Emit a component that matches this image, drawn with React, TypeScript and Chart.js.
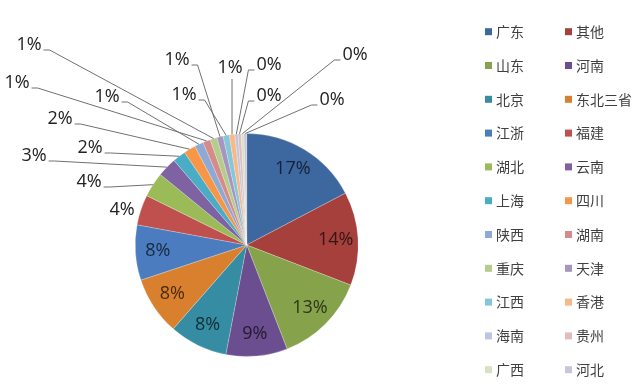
import React, { useEffect, useRef } from 'react';
import { Chart, registerables } from 'chart.js';

Chart.register(...registerables);

// ---- data ----
const categories = ['广东', '其他', '山东', '河南', '北京', '东北三省', '江浙', '福建', '湖北', '云南', '上海', '四川', '陕西', '湖南', '重庆', '天津', '江西', '香港', '海南', '贵州', '广西', '河北'];
const shares = [17.3, 13.55, 13.25, 8.9, 8.45, 8.45, 8.0, 4.4, 3.6, 2.8, 1.9, 1.7, 1.3, 1.1, 1.0, 0.9, 0.9, 0.8, 0.45, 0.45, 0.4, 0.4];

// ---- styles ----
const sliceColors = ['#3C679F', '#A5403D', '#86A34B', '#6A4E8F', '#368CA3', '#D9802F', '#4A7CBF', '#C0504D', '#9BBB59', '#7F62A1', '#4BACC6', '#F79646', '#8DA9D4', '#D48B89', '#B5CC8A', '#A496BE', '#86C6D9', '#F9B886', '#B9C7E2', '#E1BDBC', '#D6E2C3', '#CBC5D8'];

// label placement: null => inside the slice; [dx, dy] => outside label centre offset from the pie centre
const outsideLabelOffsets: (null | [number, number])[] = [
  null, null, null, null, null, null, null,
  [-124.7, -35], [-157.7, -63], [-212.7, -89], [-156.7, -97], [-186.7, -126],
  [-139.7, -148], [-229.7, -162], [-217.7, -200], [-69.7, -185], [-62.7, -150],
  [-16.7, -177], [22.3, -180], [22.3, -149], [108.3, -190], [85.3, -145],
];

function darken(hex: string, f: number) {
  const n = parseInt(hex.slice(1), 16);
  const r = Math.round(((n >> 16) & 255) * f);
  const g = Math.round(((n >> 8) & 255) * f);
  const b = Math.round((n & 255) * f);
  return `rgb(${r},${g},${b})`;
}

const labelFont = '18px "Open Sans", "Liberation Sans", sans-serif';
const legendFont = '14px "Noto Sans CJK SC", sans-serif';

const pieLabelsPlugin = {
  id: 'pieLabels',
  afterDatasetsDraw(chart: any) {
    const ctx = chart.ctx as CanvasRenderingContext2D;
    const meta = chart.getDatasetMeta(0);
    const data = chart.data.datasets[0].data as number[];
    const total = data.reduce((a, b) => a + b, 0);
    ctx.save();
    ctx.font = labelFont;
    ctx.textBaseline = 'middle';
    ctx.textAlign = 'center';
    meta.data.forEach((arc: any, i: number) => {
      const { x, y, startAngle, endAngle, outerRadius } = arc.getProps(['x', 'y', 'startAngle', 'endAngle', 'outerRadius'], true);
      const mid = (startAngle + endAngle) / 2;
      const text = Math.round((data[i] / total) * 100) + '%';
      const off = outsideLabelOffsets[i];
      if (!off) {
        const r = outerRadius * 0.8;
        ctx.fillStyle = darken(sliceColors[i], 0.33);
        ctx.fillText(text, x + Math.cos(mid) * r, y + Math.sin(mid) * r);
        return;
      }
      const lx = x + off[0];
      const ly = y + off[1];
      ctx.fillStyle = '#222222';
      ctx.fillText(text, lx, ly);
      const w = ctx.measureText(text).width;
      const ax = x + Math.cos(mid) * outerRadius;
      const ay = y + Math.sin(mid) * outerRadius;
      const left = lx - w / 2;
      const right = lx + w / 2;
      let sx: number, sy: number, hx: number;
      if (Math.abs(ax - lx) < w / 2) {
        sx = ax; sy = ly + 11; hx = ax;
      } else if (ax > lx) {
        sx = right + 2; sy = ly + 5; hx = sx + 6;
      } else {
        sx = left - 2; sy = ly + 5; hx = sx - 6;
      }
      const d = Math.hypot(ax - sx, ay - sy);
      if (d < 15) return;
      ctx.strokeStyle = '#707070';
      ctx.lineWidth = 1;
      ctx.beginPath();
      ctx.moveTo(sx, sy);
      ctx.lineTo(hx, sy);
      ctx.lineTo(ax, ay);
      ctx.stroke();
    });
    ctx.restore();
  },
  afterDraw(chart: any) {
    const ctx = chart.ctx as CanvasRenderingContext2D;
    ctx.save();
    ctx.font = legendFont;
    ctx.textBaseline = 'middle';
    ctx.textAlign = 'left';
    const labels = chart.data.labels as string[];
    labels.forEach((lab, i) => {
      const col = i % 2;
      const row = Math.floor(i / 2);
      const mx = col === 0 ? 485 : 565;
      const cy = 31.7 + row * 33.8;
      ctx.fillStyle = sliceColors[i];
      ctx.fillRect(mx, cy - 3.5, 7, 7);
      ctx.fillStyle = '#404040';
      ctx.fillText(lab, mx + 11, cy);
    });
    ctx.restore();
  },
};

export default function App() {
  const ref = useRef<HTMLCanvasElement | null>(null);
  useEffect(() => {
    if (!ref.current) return;
    const chart = new Chart(ref.current, {
      type: 'pie',
      data: {
        labels: categories,
        datasets: [
          {
            data: shares,
            backgroundColor: sliceColors,
            borderColor: 'rgba(255,255,255,0.4)',
            borderWidth: 0.6,
            radius: 111.5,
          } as any,
        ],
      },
      options: {
        responsive: false,
        maintainAspectRatio: false,
        animation: false,
        layout: { padding: { left: 135, right: 281.6, top: 133.5, bottom: 27.5 } },
        plugins: {
          legend: { display: false },
          tooltip: { enabled: false },
        },
      },
      plugins: [pieLabelsPlugin],
    });
    const fonts = (document as any).fonts;
    if (fonts && fonts.load) {
      Promise.all([fonts.load(labelFont), fonts.load(legendFont, '广东其他')])
        .then(() => chart.update('none'))
        .catch(() => {});
    }
    return () => chart.destroy();
  }, []);
  return (
    <div style={{ position: 'fixed', left: 0, top: 0, width: 640, height: 384, background: '#fff' }}>
      <canvas ref={ref} width={640} height={384} style={{ width: 640, height: 384, display: 'block' }} />
    </div>
  );
}
